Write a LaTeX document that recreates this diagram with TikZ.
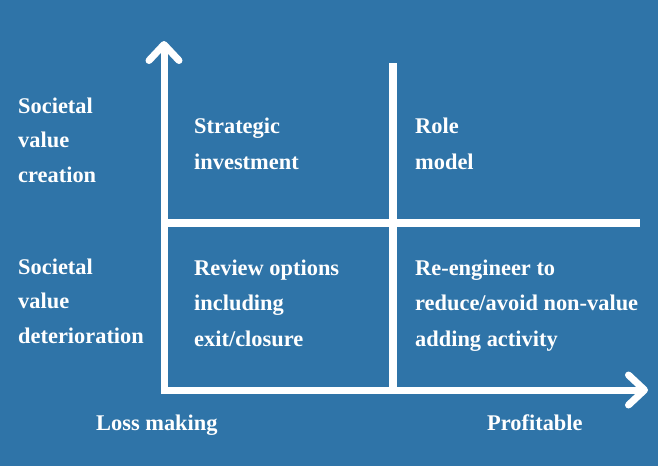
\documentclass[tikz,border=0pt]{standalone}
\usepackage{fontspec}
\setmainfont{Liberation Serif}
\usetikzlibrary{arrows.meta,positioning}
\definecolor{panelblue}{RGB}{47,116,168}

\begin{document}
\begin{tikzpicture}
    [x=1pt,y=-1pt,
    axis/.style={draw=white,line width=7pt,
                 {Straight Barb[length=16pt,width=30pt,round]}-{Straight Barb[length=16pt,width=30pt,round]}},
    divider/.style={draw=white,line width=7.5pt},
    quadtext/.style={text=white,font=\bfseries\fontsize{22.4}{35.5}\selectfont,
                     align=left,anchor=base west,inner sep=0pt},
    sidetext/.style={quadtext,font=\bfseries\fontsize{22.4}{34.5}\selectfont}]

    \fill[panelblue] (0,0) rectangle (658,466);
    \useasboundingbox (0,0) rectangle (658,466);

    \coordinate (origin) at (164,390);
    \coordinate (ytip)   at (164,41);
    \coordinate (xtip)   at (648,390);
    \coordinate (midtop) at (393,63);
    \coordinate (midbot) at (393,390);
    \coordinate (rowleft)  at (164,223);
    \coordinate (rowright) at (640,223);

    \draw[divider] (midtop) -- (midbot);
    \draw[divider] (rowleft) -- (rowright);
    \draw[axis] (ytip) -- (origin) -- (xtip);

    % base anchor sits on the last line
    \node[sidetext] (creation)  at (18,182) {Societal\\value\\creation};
    \node[sidetext] (deterior)  at (18,343) {Societal\\value\\deterioration};

    \node[quadtext] (strategic) at (194,169) {Strategic\\investment};
    \node[quadtext] (rolemodel) at (415,169) {Role\\model};
    \node[quadtext] (review)    at (194,346) {Review options\\including\\exit/closure};
    \node[quadtext] (reengin)   at (415,346) {Re-engineer to\\reduce/avoid non-value\\adding activity};

    \node[quadtext] (lossmaking) at (96,430)  {Loss making};
    \node[quadtext] (profitable) at (487,430) {Profitable};
\end{tikzpicture}
\end{document}
